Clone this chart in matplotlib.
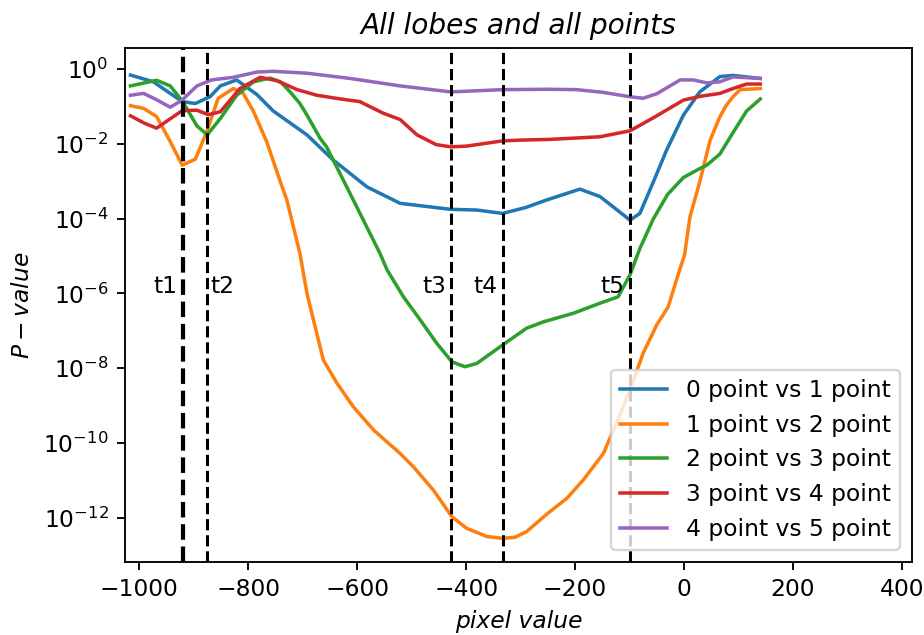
import numpy as np
import matplotlib
matplotlib.use("Agg")
import matplotlib.pyplot as plt

# ---- data (x = pixel value, values = log10 of P-value) ----
labels = ["0 point vs 1 point", "1 point vs 2 point", "2 point vs 3 point",
          "3 point vs 4 point", "4 point vs 5 point"]

x0 = [-1016, -974, -921, -897, -870, -851, -821, -784, -754, -692, -644, -582, -521,
      -429, -380, -333, -290, -252, -191, -154, -99, -81, -56, -32, -1, 29, 66, 90, 140]
lp0 = [-0.16, -0.34, -0.87, -0.92, -0.74, -0.45, -0.29, -0.68, -1.12, -1.76, -2.43, -3.15, -3.59,
       -3.75, -3.77, -3.86, -3.70, -3.50, -3.21, -3.41, -4.04, -3.86, -3.01, -2.17, -1.23, -0.61, -0.20, -0.17, -0.25]

x1 = [-1016, -992, -968, -943, -921, -897, -876, -855, -827, -809, -790, -766, -741, -729,
      -705, -692, -674, -662, -637, -607, -570, -521, -497, -460, -426, -399, -362, -333,
      -310, -289, -250, -215, -185, -148, -124, -99, -75, -50, -29, -13, 1, 11, 29, 48,
      66, 78, 90, 103, 140]
lp1 = [-0.98, -1.05, -1.27, -1.94, -2.57, -2.41, -1.68, -0.78, -0.52, -0.65, -1.14, -1.94, -3.01, -3.50,
       -4.93, -6.00, -7.07, -7.78, -8.40, -9.03, -9.65, -10.28, -10.63, -11.26, -11.97, -12.28, -12.50, -12.55,
       -12.52, -12.37, -11.88, -11.48, -10.99, -10.28, -9.47, -8.58, -7.60, -6.84, -6.36, -5.60, -4.97, -3.95, -3.01, -1.90,
       -1.27, -0.96, -0.74, -0.55, -0.52]

x2 = [-1016, -968, -943, -921, -894, -875, -851, -821, -790, -760, -740, -723, -705, -692,
      -668, -656, -607, -558, -545, -515, -484, -454, -426, -402, -380, -333, -289, -258,
      -203, -154, -121, -99, -81, -56, -30, -1, 29, 42, 66, 90, 115, 140]
lp2 = [-0.45, -0.30, -0.45, -0.85, -1.52, -1.76, -1.32, -0.70, -0.34, -0.24, -0.35, -0.61, -0.92, -1.23,
       -1.85, -2.08, -3.50, -4.93, -5.37, -6.09, -6.71, -7.33, -7.83, -7.96, -7.87, -7.38, -6.93, -6.76,
       -6.53, -6.26, -6.09, -5.50, -4.80, -4.00, -3.35, -2.90, -2.66, -2.57, -2.27, -1.70, -1.12, -0.80]

x3 = [-1016, -990, -968, -945, -921, -894, -873, -851, -815, -778, -747, -710, -674, -630,
      -595, -552, -521, -490, -455, -428, -399, -333, -301, -246, -154, -99, -56, -1, 29,
      66, 90, 115, 140]
lp3 = [-1.25, -1.45, -1.58, -1.35, -1.11, -1.10, -1.22, -1.14, -0.52, -0.22, -0.31, -0.55, -0.70, -0.80,
       -0.87, -1.18, -1.35, -1.76, -2.02, -2.08, -2.06, -1.92, -1.90, -1.88, -1.81, -1.65, -1.30, -0.83, -0.73,
       -0.65, -0.52, -0.40, -0.40]

x4 = [-1016, -992, -968, -943, -922, -894, -867, -827, -784, -754, -692, -613, -521, -428,
      -333, -250, -197, -150, -99, -75, -50, -7, 17, 42, 66, 90, 140]
lp4 = [-0.70, -0.65, -0.82, -1.02, -0.84, -0.45, -0.29, -0.22, -0.08, -0.06, -0.11, -0.25, -0.45, -0.61,
       -0.55, -0.54, -0.55, -0.62, -0.74, -0.78, -0.66, -0.29, -0.29, -0.37, -0.34, -0.21, -0.25]

t_pos = [-920, -875, -428, -333, -100]
t_labels = ["t1", "t2", "t3", "t4", "t5"]

series = [(x0, lp0), (x1, lp1), (x2, lp2), (x3, lp3), (x4, lp4)]

# ---- figure ----
fig = plt.figure(figsize=(5.5, 3.78), dpi=168)
ax = fig.add_axes([0.1353, 0.1154, 0.8514, 0.809])

for (xs, lps), lab in zip(series, labels):
    ax.plot(xs, 10.0 ** np.array(lps), lw=1.5, label=lab)

ax.set_yscale("log")

for i, (tp, tl) in enumerate(zip(t_pos, t_labels)):
    ax.axvline(tp, color="k", ls="--", lw=1.8 if i == 0 else 1.3)
    if tl == "t2":
        ax.text(tp + 6, 1e-6, tl, ha="left", va="baseline", fontsize=10)
    else:
        ax.text(tp - 9, 1e-6, tl, ha="right", va="baseline", fontsize=10)

ax.set_xlim(-1026, 418)
ax.set_xticks([-1000, -800, -600, -400, -200, 0, 200, 400])
ax.set_title("All lobes and all points", fontstyle="italic", fontsize=12)
ax.set_xlabel("pixel value", fontstyle="italic")
ax.set_ylabel("$P-value$")
ax.legend(loc="lower right")

fig.savefig("out.png", dpi=168)
